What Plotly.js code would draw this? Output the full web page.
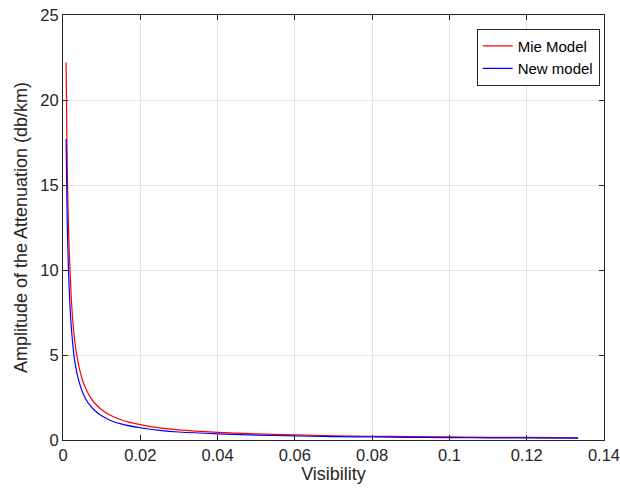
<!DOCTYPE html>
<html>
<head>
<meta charset="utf-8">
<script src="https://cdn.plot.ly/plotly-3.0.1.min.js"></script>
<style>html,body{margin:0;padding:0;background:#fff;}#chart{width:620px;height:495px;}</style>
</head>
<body>
<div id="chart"></div>
<script>
var visibility = [0.0008, 0.001, 0.0012, 0.0015, 0.002, 0.0025, 0.003, 0.0035, 0.004, 0.005, 0.006, 0.007, 0.008, 0.01, 0.012, 0.015, 0.02, 0.025, 0.03, 0.04, 0.05, 0.06, 0.07, 0.08, 0.09, 0.1, 0.11, 0.12, 0.1333];
var mieModel = [22.2, 17.8, 14.8, 11.9, 9.0, 7.1, 5.9, 5.1, 4.45, 3.56, 2.97, 2.54, 2.22, 1.78, 1.48, 1.19, 0.90, 0.71, 0.59, 0.45, 0.36, 0.30, 0.25, 0.22, 0.20, 0.18, 0.16, 0.15, 0.13];
var newModel = [17.7, 14.2, 11.8, 9.5, 7.1, 5.7, 4.7, 4.06, 3.55, 2.84, 2.37, 2.03, 1.78, 1.42, 1.18, 0.95, 0.72, 0.57, 0.47, 0.36, 0.29, 0.24, 0.20, 0.18, 0.16, 0.14, 0.13, 0.12, 0.11];
var xTicks = [0, 0.02, 0.04, 0.06, 0.08, 0.1, 0.12, 0.14];
var xTickText = ['0', '0.02', '0.04', '0.06', '0.08', '0.1', '0.12', '0.14'];
var yTicks = [0, 5, 10, 15, 20, 25];

var fam = 'Liberation Sans, Arial, sans-serif';
var tickFont = {family: fam, size: 16.5, color: '#262626'};
var titleFont = {family: fam, size: 18, color: '#262626'};
var traces = [
  {x: visibility, y: mieModel, type: 'scatter', mode: 'lines', name: 'Mie Model', line: {color: '#ff0000', width: 1.2, shape: 'spline'}},
  {x: visibility, y: newModel, type: 'scatter', mode: 'lines', name: 'New model', line: {color: '#0000ff', width: 1.2, shape: 'spline'}}
];
var axisCommon = {
  showgrid: true, gridcolor: '#e3e3e3', gridwidth: 1,
  showline: true, linecolor: '#262626', linewidth: 1, mirror: 'ticks',
  ticks: 'inside', ticklen: 5, tickcolor: '#262626',
  zeroline: false, tickfont: tickFont, ticklabeloverflow: 'allow'
};
var layout = {
  width: 620, height: 495,
  margin: {l: 63, r: 16, t: 15, b: 55},
  paper_bgcolor: '#ffffff', plot_bgcolor: '#ffffff',
  font: tickFont,
  showlegend: true,
  legend: {x: 0.992, y: 0.968, xanchor: 'right', yanchor: 'top', bgcolor: '#ffffff', bordercolor: '#262626', borderwidth: 1, font: {family: fam, size: 15, color: '#000'}, tracegroupgap: 0},
  xaxis: Object.assign({}, axisCommon, {range: [0, 0.14], tickvals: xTicks, ticktext: xTickText, title: {text: 'Visibility', font: titleFont, standoff: 4}}),
  yaxis: Object.assign({}, axisCommon, {range: [0, 25], tickvals: yTicks, title: {text: 'Amplitude of the Attenuation (db/km)', font: titleFont, standoff: 8}})
};
Plotly.newPlot('chart', traces, layout, {displayModeBar: false, staticPlot: true});
</script>
</body>
</html>
